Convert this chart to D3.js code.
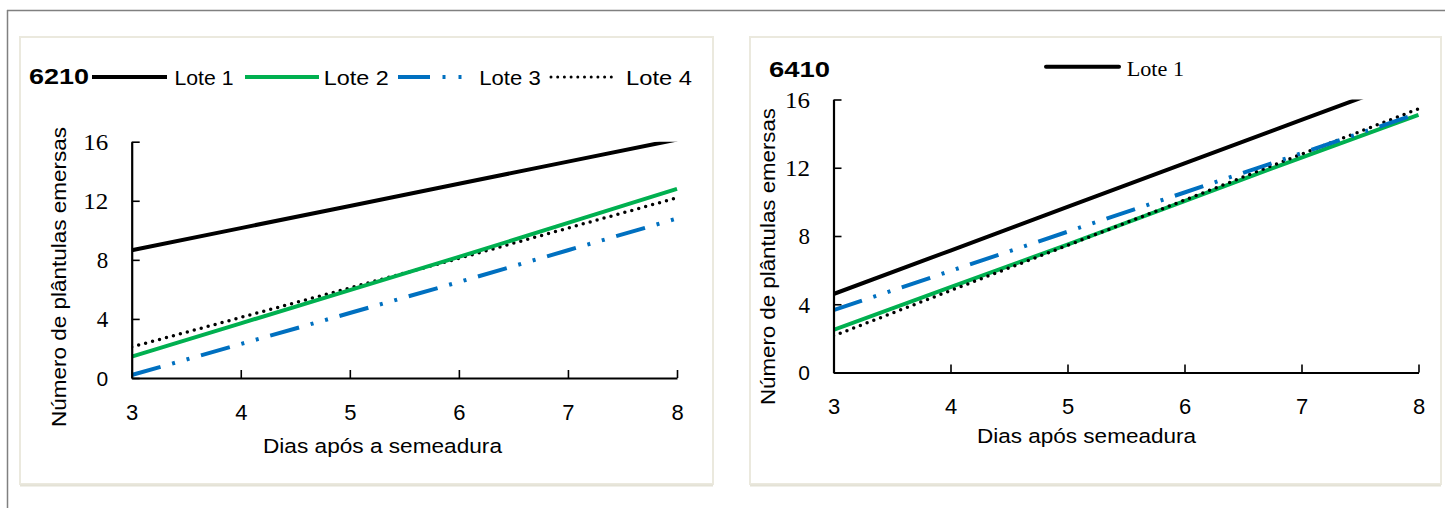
<!DOCTYPE html>
<html><head><meta charset="utf-8">
<script src="https://cdn.jsdelivr.net/npm/d3@7"></script>
<style>body{margin:0;background:#fff}svg{display:block}</style>
</head><body>
<script>
// ---- data ----
const days = [3, 4, 5, 6, 7, 8];
const yTicks = [0, 4, 8, 12, 16];
const seriesNames = ["Lote 1", "Lote 2", "Lote 3", "Lote 4"];
const lote1_6210 = [8.65, 10.15, 11.65, 13.15, 14.65, 16.15];
const lote2_6210 = [1.45, 3.7, 5.95, 8.2, 10.5, 12.8];
const lote3_6210 = [0.2, 2.3, 4.4, 6.5, 8.65, 10.8];
const lote4_6210 = [2.1, 4.1, 6.1, 8.1, 10.15, 12.2];
const lote1_6410 = [4.6, 7.15, 9.7, 12.25, 14.8, 17.35];
const lote2_6410 = [2.5, 5.0, 7.5, 10.05, 12.6, 15.1];
const lote3_6410 = [3.65, 5.95, 8.25, 10.55, 12.85, 15.2];
const lote4_6410 = [2.15, 4.8, 7.45, 10.1, 12.8, 15.45];

const SANS = "'Liberation Sans', Arial, sans-serif";
const SERIF = "'Liberation Serif', 'Times New Roman', serif";
const styles = [
  {color: "#000000", width: 4, dash: null, cap: "butt"},
  {color: "#00b050", width: 4, dash: null, cap: "butt"},
  {color: "#0070c0", width: 4, dash: "30 12 3 12 3 12", cap: "butt"},
  {color: "#000000", width: 3.5, dash: "0 7.2", cap: "round"}
];

const svg = d3.select("body").append("svg").attr("width", 1445).attr("height", 508);

// outer frame lines
svg.append("line").attr("x1", 7).attr("x2", 1445).attr("y1", 10.5).attr("y2", 10.5)
  .attr("stroke", "#808080").attr("stroke-width", 1.5);
svg.append("line").attr("x1", 7.5).attr("x2", 7.5).attr("y1", 10).attr("y2", 508)
  .attr("stroke", "#808080").attr("stroke-width", 1.5);

function panel(cfg) {
  svg.append("rect").attr("x", cfg.box[0]).attr("y", cfg.box[1])
    .attr("width", cfg.box[2]).attr("height", cfg.box[3])
    .attr("fill", "#fff").attr("stroke", "#ebe9de").attr("stroke-width", 2);
  svg.append("line").attr("x1", cfg.box[0]).attr("x2", cfg.box[0] + cfg.box[2])
    .attr("y1", cfg.box[1] + cfg.box[3] + 1.5).attr("y2", cfg.box[1] + cfg.box[3] + 1.5)
    .attr("stroke", "#e4e2d6").attr("stroke-width", 2);

  const x = d3.scaleLinear().domain([3, 8]).range(cfg.xr);
  const y = d3.scaleLinear().domain([0, 16]).range(cfg.yr);

  const clipId = "clip" + cfg.id;
  svg.append("clipPath").attr("id", clipId).append("rect")
    .attr("x", cfg.xr[0]).attr("y", cfg.yr[1])
    .attr("width", cfg.xr[1] - cfg.xr[0] + 3).attr("height", cfg.yr[0] - cfg.yr[1] + 2);

  const line = d3.line().x((d, i) => x(days[i])).y(d => y(d));
  const g = svg.append("g").attr("clip-path", `url(#${clipId})`);
  cfg.order.forEach(k => {
    const s = styles[k];
    g.append("path").datum(cfg.data[k]).attr("d", line)
      .attr("fill", "none").attr("stroke", s.color).attr("stroke-width", s.width)
      .attr("stroke-linecap", s.cap)
      .attr("stroke-dasharray", s.dash);
  });

  const xa = svg.append("g").attr("transform", `translate(0,${cfg.yr[0]})`)
    .call(d3.axisBottom(x).tickValues(days).tickSize(-8).tickSizeOuter(0).tickFormat(d3.format("d")));
  xa.select(".domain").attr("stroke-width", 2.2).attr("stroke", "#000");
  xa.selectAll(".tick line").attr("stroke-width", 1.6).attr("stroke", "#000");
  xa.selectAll(".tick text").attr("y", cfg.xLabelDy).attr("dy", null)
    .attr("font-family", SANS).attr("font-size", 22).attr("fill", "#000");

  const ya = svg.append("g").attr("transform", `translate(${cfg.xr[0]},0)`)
    .call(d3.axisLeft(y).tickValues(yTicks).tickSize(-8).tickSizeOuter(0).tickFormat(d3.format("d")));
  ya.select(".domain").attr("stroke-width", 2.2).attr("stroke", "#000");
  ya.selectAll(".tick line").attr("stroke-width", 1.6).attr("stroke", "#000");
  ya.selectAll(".tick text").attr("x", -23.5).attr("dy", "0.34em")
    .attr("font-family", d => d === 0 ? SANS : SERIF)
    .attr("font-size", d => d === 0 ? 21 : 23).attr("fill", "#000")
    .each(function(d) {
      if (d >= 10) d3.select(this).attr("textLength", 25).attr("lengthAdjust", "spacingAndGlyphs");
    });

  svg.append("text").attr("transform", `translate(${cfg.yTitle[0]},${cfg.yTitle[1]}) rotate(-90)`)
    .attr("text-anchor", "middle").attr("font-family", SANS).attr("font-size", 20.5)
    .attr("textLength", cfg.yTitle[2]).attr("lengthAdjust", "spacingAndGlyphs")
    .text("Número de plântulas emersas");
  svg.append("text").attr("x", cfg.xTitle[0]).attr("y", cfg.xTitle[1])
    .attr("text-anchor", "middle").attr("font-family", SANS).attr("font-size", 20.5)
    .attr("textLength", cfg.xTitle[2]).attr("lengthAdjust", "spacingAndGlyphs")
    .text(cfg.xTitleText);

  svg.append("text").attr("x", cfg.title[0]).attr("y", cfg.title[1])
    .attr("font-family", SANS).attr("font-weight", "bold").attr("font-size", 22)
    .attr("textLength", cfg.title[2]).attr("lengthAdjust", "spacingAndGlyphs")
    .text(cfg.titleText);
}

panel({
  id: "a", box: [20, 37, 693, 447], xr: [131.7, 677], yr: [378, 141.7],
  data: [lote1_6210, lote2_6210, lote3_6210, lote4_6210], order: [3, 2, 1, 0],
  xLabelDy: 42, yTitle: [66, 277, 300], xTitle: [382.5, 452.5, 239],
  xTitleText: "Dias após a semeadura", title: [29, 84, 60], titleText: "6210"
});
panel({
  id: "b", box: [750, 37, 691, 447], xr: [833.5, 1418.5], yr: [372.5, 99.5],
  data: [lote1_6410, lote2_6410, lote3_6410, lote4_6410], order: [1, 3, 2, 0],
  xLabelDy: 41, yTitle: [775, 256.5, 297], xTitle: [1086.5, 443, 219],
  xTitleText: "Dias após semeadura", title: [769, 76.5, 61], titleText: "6410"
});

// legend, panel 6210
const leg = [
  {x1: 92, x2: 167, tx: 174.5, tw: 59},
  {x1: 245, x2: 319, tx: 323.7, tw: 65},
  {x1: 398, x2: 470, tx: 479.3, tw: 61.4, dash: "32 12.5 3 13 3 60"},
  {x1: 551, x2: 612, tx: 626, tw: 66, dash: "0 6.7"}
];
leg.forEach((l, i) => {
  const s = styles[i];
  const ly = 77;
  svg.append("line").attr("x1", l.x1).attr("x2", l.x2).attr("y1", ly).attr("y2", ly)
    .attr("stroke", s.color).attr("stroke-width", i === 3 ? 3 : 4)
    .attr("stroke-linecap", i === 3 ? "round" : "butt")
    .attr("stroke-dasharray", l.dash || null);
  svg.append("text").attr("x", l.tx).attr("y", 84.5).attr("font-family", SANS).attr("font-size", 19.5)
    .attr("textLength", l.tw).attr("lengthAdjust", "spacingAndGlyphs").text(seriesNames[i]);
});

// legend, panel 6410 (only Lote 1)
svg.append("line").attr("x1", 1046).attr("x2", 1119).attr("y1", 66.7).attr("y2", 66.7)
  .attr("stroke", "#000").attr("stroke-width", 4).attr("stroke-linecap", "round");
svg.append("text").attr("x", 1126.7).attr("y", 75.5).attr("font-family", SERIF).attr("font-size", 22)
  .attr("textLength", 57.3).attr("lengthAdjust", "spacingAndGlyphs").text(seriesNames[0]);
</script>
</body></html>
